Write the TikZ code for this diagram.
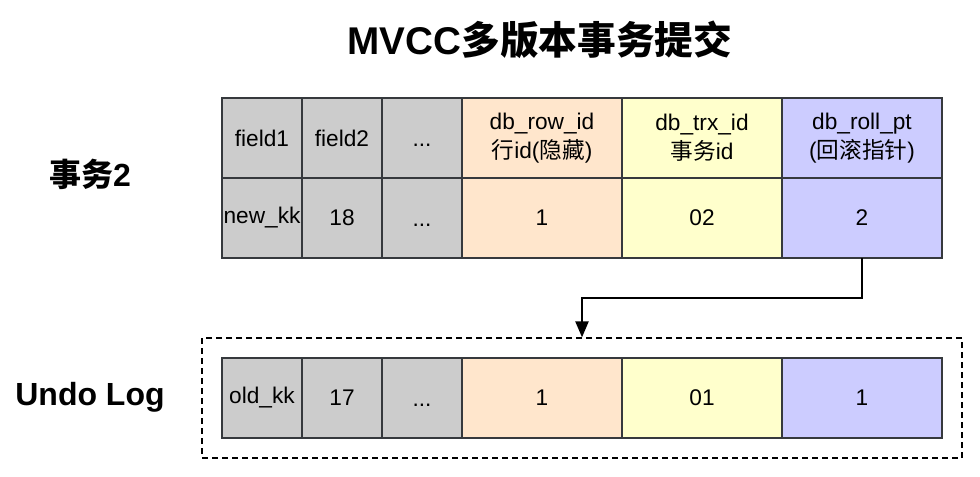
\documentclass[tikz,border=0pt]{standalone}
\usepackage{fontspec}
\setmainfont{Liberation Sans}
\newfontfamily\cjk{Noto Sans CJK SC}
\usetikzlibrary{arrows.meta,positioning,fit}
\definecolor{cellgray}{HTML}{CCCCCC}
\definecolor{rowid}{HTML}{FFE6CC}
\definecolor{trxid}{HTML}{FFFFCC}
\definecolor{rollpt}{HTML}{CCCCFF}
\definecolor{edge}{HTML}{36393D}

\begin{document}
\begin{tikzpicture}[
  x=0.75pt, y=-0.75pt,
  cell/.style={draw=edge, line width=1.1pt, fill=cellgray, outer sep=0pt, inner sep=0pt, minimum width=60pt, minimum height=60pt, align=center, font=\fontsize{17}{22}\selectfont},
  dots/.style={cell, text height=12pt, text depth=0pt},
  wide/.style={cell, minimum width=120pt},
  rowcell/.style={wide, fill=rowid},
  trxcell/.style={wide, fill=trxid},
  rollcell/.style={wide, fill=rollpt},
  side/.style={font=\fontsize{24}{28}\selectfont\bfseries},
  arr/.style={-{Triangle[length=12pt,width=10pt]}, line width=1.1pt}
]
\useasboundingbox (0,0) rectangle (980,476);
\node[font=\fontsize{29}{33}\selectfont\bfseries] (title) at (540,40) {MVCC{\cjk 多版本事务提交}};
% current row
\node[cell] (a1) at (262,138) {field1};
\node[cell, right=0pt of a1] (a2) {field2};
\node[dots, right=0pt of a2] (a3) {...};
\node[rowcell, right=0pt of a3] (a4) {db\_row\_id\\{\cjk 行}id({\cjk 隐藏})};
\node[trxcell, right=0pt of a4] (a5) {db\_trx\_id\\{\cjk 事务}id};
\node[rollcell, right=0pt of a5] (a6) {db\_roll\_pt\\({\cjk 回滚指针})};
\node[cell, below=0pt of a1] (b1) {new\_kk};
\node[cell, right=0pt of b1] (b2) {18};
\node[dots, right=0pt of b2] (b3) {...};
\node[rowcell, right=0pt of b3] (b4) {1};
\node[trxcell, right=0pt of b4] (b5) {02};
\node[rollcell, right=0pt of b5] (b6) {2};
% undo log row
\node[cell] (u1) at (262,398) {old\_kk};
\node[cell, right=0pt of u1] (u2) {17};
\node[dots, right=0pt of u2] (u3) {...};
\node[rowcell, right=0pt of u3] (u4) {1};
\node[trxcell, right=0pt of u4] (u5) {01};
\node[rollcell, right=0pt of u5] (u6) {1};
\node[draw, dash pattern=on 4.5pt off 3pt, line width=1.1pt, fit=(u1)(u6), inner sep=15pt] (log) {};
\draw[arr] (b6.south) -- ++(0,40) -| (log.north);
\node[side] (trx) at (90,174) {{\cjk 事务}2};
\node[side] (undo) at (90,397) {Undo Log};
\end{tikzpicture}
\end{document}
